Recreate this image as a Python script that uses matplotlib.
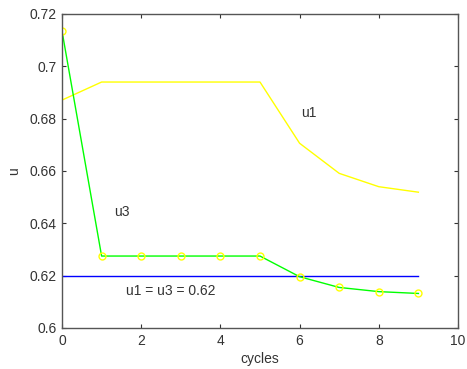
import matplotlib
matplotlib.use("Agg")
import matplotlib.pyplot as plt

cycles = [0, 1, 2, 3, 4, 5, 6, 7, 8, 9]
u1 = [0.6871, 0.694, 0.694, 0.694, 0.694, 0.694, 0.6706, 0.6591, 0.654, 0.6519]
u3 = [0.7135, 0.6275, 0.6275, 0.6275, 0.6275, 0.6275, 0.6196, 0.6155, 0.6139, 0.6132]
equil = 0.62
xticks = [0, 2, 4, 6, 8, 10]
yticks = [0.6, 0.62, 0.64, 0.66, 0.68, 0.7, 0.72]
ytick_labels = ["0.6", "0.62", "0.64", "0.66", "0.68", "0.7", "0.72"]

plt.rcParams['font.family'] = ['Liberation Sans', 'DejaVu Sans']

fig = plt.figure(figsize=(4.67, 3.69), dpi=100)
ax = fig.add_axes([62/467, 1-328/369, 396/467, 314/369])

ax.plot(cycles, u1, color=(1, 1, 0), lw=1)
ax.plot([cycles[0], cycles[-1]], [equil, equil], color=(0, 0, 1), lw=1)
ax.plot(cycles, u3, color=(0, 1, 0), lw=1)
ax.plot(cycles, u3, linestyle='none', marker='o', markersize=5,
        markerfacecolor='none', markeredgecolor=(1, 1, 0), markeredgewidth=1)

tc = '#333333'
ax.text(6.05, 0.6822, "u1", fontsize=10, color=tc, va='center', ha='left')
ax.text(1.31, 0.6443, "u3", fontsize=10, color=tc, va='center', ha='left')
ax.text(1.62, 0.6142, "u1 = u3 = 0.62", fontsize=10, color=tc, va='center', ha='left')

ax.set_xlim(0, 10)
ax.set_ylim(0.6, 0.72)
ax.set_xticks(xticks)
ax.set_yticks(yticks)
ax.set_yticklabels(ytick_labels)
ax.tick_params(direction='in', top=True, right=True, length=3, labelsize=10,
               colors=tc, width=0.8, pad=4)
for s in ax.spines.values():
    s.set_color('#555555')
    s.set_linewidth(1)
ax.set_xlabel("cycles", fontsize=10, color=tc, labelpad=3)
ax.set_ylabel("u", fontsize=10, color=tc, labelpad=6)

fig.savefig("out.png", dpi=100)
